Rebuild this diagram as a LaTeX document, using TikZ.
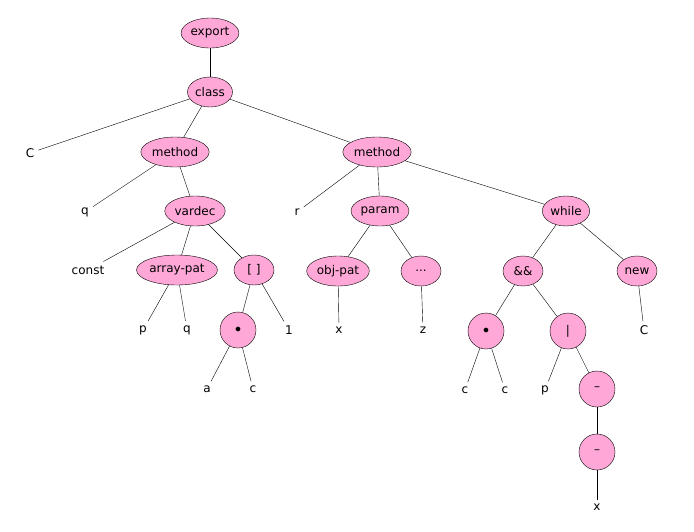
\documentclass[tikz,border=0pt]{standalone}
\usepackage{fontspec}
\setmainfont{DejaVu Sans}
\usetikzlibrary{shapes.geometric}
\definecolor{nodepink}{RGB}{255,168,216}
\tikzset{
  op/.style={ellipse,draw,fill=nodepink,minimum height=30pt,minimum width=40pt,inner xsep=1pt,inner ysep=2pt,font=\fontsize{12}{14}\selectfont},
  dot/.style={circle,draw,fill=nodepink,minimum size=36pt,inner sep=0pt,font=\fontsize{12}{14}\selectfont},
  leaf/.style={inner sep=4pt,font=\fontsize{12}{14}\selectfont}
}
\begin{document}
\begin{tikzpicture}[x=1pt,y=-1pt]
  \useasboundingbox (0,0) rectangle (694,531);

  % upper part
  \node[op] (export) at (210,33) {export};
  \node[op] (class) at (210,92) {class};
  \node[leaf] (cname) at (30,153) {C};
  \node[op] (methA) at (175,152) {method};
  \node[op] (methB) at (377,152) {method};
  % left method
  \node[leaf] (q1) at (85,212) {q};
  \node[op] (vardec) at (195,211) {vardec};
  \node[leaf] (const) at (88,270) {const};
  \node[op] (arrpat) at (177,270) {array-pat};
  \node[op] (index) at (254,270) {[ ]};
  \node[leaf] (p1) at (143,330) {p};
  \node[leaf] (q2) at (187,330) {q};
  \node[dot] (dotA) at (238,330) {$\bullet$};
  \node[leaf] (one) at (289,330) {1};
  \node[leaf] (a) at (207,389) {a};
  \node[leaf] (c1) at (253,389) {c};
  % right method
  \node[leaf] (r) at (297,212) {r};
  \node[op] (param) at (380,211) {param};
  \node[op] (while) at (566,211) {while};
  \node[op] (objpat) at (338,271) {obj-pat};
  \node[op] (dots) at (421,271) {...};
  \node[leaf] (x1) at (339,330) {x};
  \node[leaf] (z) at (423,330) {z};
  \node[op] (and) at (523,271) {\&\&};
  \node[op] (new) at (637,271) {new};
  \node[leaf] (cnew) at (644,330) {C};
  \node[dot] (dotB) at (486,331) {$\bullet$};
  \node[dot] (or) at (568,331) {|};
  \node[leaf] (c2) at (465,390) {c};
  \node[leaf] (c3) at (505,390) {c};
  \node[leaf] (p2) at (545,390) {p};
  \node[dot] (negA) at (597,389) {–};
  \node[dot] (negB) at (597,452) {–};
  \node[leaf] (x2) at (597,507) {x};

  \foreach \u/\v in {export/class, class/cname, class/methA, class/methB,
      methA/q1, methA/vardec, vardec/const, vardec/arrpat, vardec/index,
      arrpat/p1, arrpat/q2, index/dotA, index/one, dotA/a, dotA/c1,
      methB/r, methB/param, methB/while, param/objpat, param/dots,
      objpat/x1, dots/z, while/and, while/new, new/cnew, and/dotB, and/or,
      dotB/c2, dotB/c3, or/p2, or/negA, negA/negB, negB/x2}
    \draw (\u) -- (\v);
\end{tikzpicture}
\end{document}
